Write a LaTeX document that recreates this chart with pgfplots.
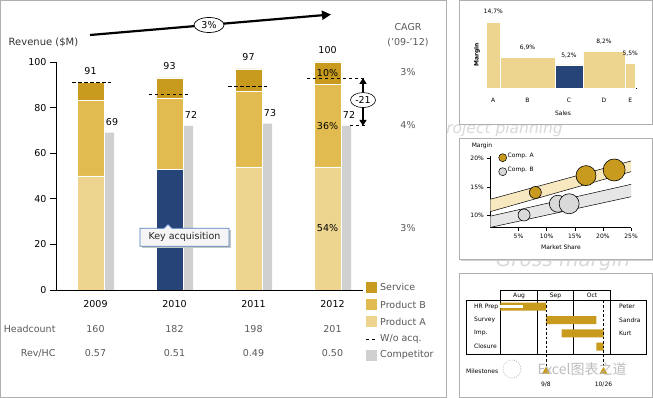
\documentclass[border=0pt]{standalone}
\usepackage{pgfplots}
\usepackage{pgfplotstable}
\pgfplotsset{compat=1.18}
\usepackage{fontspec}
\setmainfont{DejaVu Sans}
\newfontfamily\cjk{Noto Sans CJK SC}
\usetikzlibrary{arrows.meta,shapes.geometric}
\definecolor{service}{RGB}{200,155,30}
\definecolor{prodB}{RGB}{226,187,80}
\definecolor{prodA}{RGB}{237,212,143}
\definecolor{acq}{RGB}{38,68,120}
\definecolor{compc}{RGB}{208,208,208}
\definecolor{txtg}{RGB}{89,89,89}
\definecolor{tanband}{RGB}{248,232,192}
\definecolor{grayband}{RGB}{230,230,230}
\definecolor{bubB}{RGB}{217,217,217}
\definecolor{calloutb}{RGB}{79,129,189}
\definecolor{panelb}{RGB}{175,175,175}
\newcommand\fa{\fontsize{9.5}{11}\selectfont}
\newcommand\fs{\fontsize{6}{7}\selectfont}

% revenue by segment ($M)
\pgfplotstableread{
x A Acq B S
0 50 0 33 8
1 0 53 31 9
2 54 0 33 10
3 54 0 36 10
}\revtable
% competitor revenue
\pgfplotstableread{
x comp
0 69
1 72
2 73
3 72
}\comptable
% margin by sales (variable width)
\pgfplotstableread{
x m
0 14.7
9 6.9
45.5 5.2
64 8.2
92 5.5
99 5.5
}\margintable
% bubbles
\pgfplotstableread{
x y r
8 14 6
17 17 10
22 18 11
}\compA
\pgfplotstableread{
x y r
6 10 6
12 12 8.5
14 12 10
}\compB
% gantt (days from Aug 1)
\pgfplotstableread{
row start dur
3 0 38
2 38 42
1 51 35
0 80 6
}\gantt

\begin{document}
\begin{tikzpicture}[x=1pt,y=1pt]
\useasboundingbox (0,0) rectangle (653,398);
\fill[white] (0,0) rectangle (653,398);
% faint background captions
\node[anchor=base east, font=\fontsize{15.5}{17}\selectfont\itshape, text=gray!30, inner sep=0] at (563,264.7) {Project planning};
\node[anchor=base, font=\fontsize{20}{22}\selectfont\itshape, text=gray!30, inner sep=0] at (563,131) {Gross margin};
% panels
\draw[panelb, fill=white, line width=0.8pt] (0.5,0.8) rectangle (446,397.5);
\draw[panelb, fill=white, line width=0.8pt] (459.5,274) rectangle (652.5,397.8);
\fill[gray!35] (461,136.5) rectangle (653,139);
\draw[panelb, fill=white, line width=0.8pt] (459.5,138.5) rectangle (652.5,260);
\draw[panelb, fill=white, line width=0.8pt] (459.5,0.5) rectangle (652.5,125);

% ================= main chart =================
\begin{axis}[at={(56pt,108pt)}, anchor=south west, scale only axis,
  width=307pt, height=228pt, xmin=-0.5, xmax=3.386, ymin=0, ymax=100,
  enlargelimits=false, clip=false, axis on top,
  ybar stacked, bar width=27pt, bar shift=-5pt,
  axis x line=bottom, axis y line=left,
  axis line style={-, black, line width=0.8pt},
  xtick=\empty, ytick={0,20,40,60,80,100},
  tick align=outside, major tick length=6pt,
  ytick style={black, line width=0.6pt},
  yticklabel style={font=\fa, /pgf/number format/assume math mode=true},
]
\addplot[fill=prodA, draw=white, line width=0.6pt] table[x=x,y=A]{\revtable};
\addplot[fill=acq, draw=white, line width=0.6pt] table[x=x,y=Acq]{\revtable};
\addplot[fill=prodB, draw=white, line width=0.6pt] table[x=x,y=B]{\revtable};
\addplot[fill=service, draw=white, line width=0.6pt] table[x=x,y=S]{\revtable};
\end{axis}

\begin{axis}[at={(56pt,108pt)}, anchor=south west, scale only axis,
  width=307pt, height=228pt, xmin=-0.5, xmax=3.386, ymin=0, ymax=100,
  enlargelimits=false, clip=false, axis lines=none]
\addplot[ybar, bar width=9pt, bar shift=14pt, fill=compc, draw=none] table[x=x,y=comp]{\comptable};
% without acquisition
\addplot[black, line width=0.8pt, dash pattern=on 3.5pt off 2.5pt, unbounded coords=jump]
  coordinates {(-0.297,91) (0.196,91) (0.5,nan) (0.677,86) (1.184,86) (1.5,nan)
               (1.68,89.5) (2.175,89.5) (2.5,nan) (2.677,93) (3.41,93)};
\addplot[black, line width=0.8pt, dash pattern=on 3.5pt off 2.5pt] coordinates {(3.22,72) (3.41,72)};
% totals
\node[font=\fa] at (axis cs:-0.063,91) [yshift=11.5pt] {91};
\node[font=\fa] at (axis cs:0.937,93) [yshift=11.5pt] {93};
\node[font=\fa] at (axis cs:1.937,97) [yshift=11.5pt] {97};
\node[font=\fa] at (axis cs:2.937,100) [yshift=11.5pt] {100};
\node[font=\fa] at (axis cs:0.209,69) [yshift=11pt] {69};
\node[font=\fa] at (axis cs:1.209,72) [yshift=11pt] {72};
\node[font=\fa] at (axis cs:2.209,73) [yshift=11pt] {73};
\node[font=\fa] at (axis cs:3.209,72) [yshift=11pt] {72};
\node[font=\fa] at (axis cs:2.937,95) {10\%};
\node[font=\fa] at (axis cs:2.937,72) {36\%};
\node[font=\fa] at (axis cs:2.937,27) {54\%};
\node[font=\fa] at (axis cs:0,0) [yshift=-14pt] {2009};
\node[font=\fa] at (axis cs:1,0) [yshift=-14pt] {2010};
\node[font=\fa] at (axis cs:2,0) [yshift=-14pt] {2011};
\node[font=\fa] at (axis cs:3,0) [yshift=-14pt] {2012};
% gap arrow
\draw[line width=1.6pt, -{Triangle[width=7pt,length=6pt]}] (axis cs:3.386,83) -- (axis cs:3.386,93);
\draw[line width=1.6pt, -{Triangle[width=7pt,length=6pt]}] (axis cs:3.386,83) -- (axis cs:3.386,72);
\node[draw, ellipse, fill=white, line width=0.6pt, inner sep=0.5pt, minimum width=25pt, minimum height=15pt, font=\fa] at (axis cs:3.386,83.3) {-21};
\end{axis}

% titles & annotations
\node[font=\fontsize{10}{12}\selectfont, text=black!80] at (43.5,356) {Revenue (\$M)};
\draw[line width=2.2pt, -{Triangle[width=9pt,length=9pt]}] (90,363) -- (331,383.5);
\node[draw, ellipse, fill=white, line width=0.7pt, inner sep=0.5pt, minimum width=30pt, minimum height=15pt, font=\fa] at (209,373) {3\%};
\node[font=\fa, text=txtg] at (408,371) {CAGR};
\node[font=\fa, text=txtg] at (408,355) {('09-'12)};
\node[font=\fa, text=txtg] at (408,326) {3\%};
\node[font=\fa, text=txtg] at (408,273) {4\%};
\node[font=\fa, text=txtg] at (408,170) {3\%};
% headcount rows
\node[font=\fa, text=txtg, anchor=east] at (59,69) {Headcount};
\node[font=\fa, text=txtg, anchor=east] at (59,45) {Rev/HC};
\foreach \i/\h/\r in {0/160/0.57,1/182/0.51,2/198/0.49,3/201/0.50}{
  \node[font=\fa, text=txtg] at (95.5+79*\i,69) {\h};
  \node[font=\fa, text=txtg] at (95.5+79*\i,45) {\r};
}
% legend
\fill[service] (365.5,105.2) rectangle (376.5,116.2);
\fill[prodB] (365.5,87.8) rectangle (376.5,98.8);
\fill[prodA] (365.5,70.8) rectangle (376.5,81.8);
\draw[black, line width=0.8pt, dash pattern=on 3.5pt off 2.5pt] (365.5,59) -- (377,59);
\fill[compc] (365.5,37.2) rectangle (376.5,48.2);
\node[font=\fa, text=txtg, anchor=west, inner sep=0] at (380,110.7) {Service};
\node[font=\fa, text=txtg, anchor=west, inner sep=0] at (380,93.3) {Product B};
\node[font=\fa, text=txtg, anchor=west, inner sep=0] at (380,76.3) {Product A};
\node[font=\fa, text=txtg, anchor=west, inner sep=0] at (380,59) {W/o acq.};
\node[font=\fa, text=txtg, anchor=west, inner sep=0] at (380,42.7) {Competitor};
% callout
\fill[gray!45] (141.5,150) rectangle (231,168);
\draw[calloutb, fill=gray!8, line width=0.7pt] (140,151.7) -- (229,151.7) -- (229,169.7) -- (172,169.7) -- (168,173.5) -- (164,169.7) -- (140,169.7) -- cycle;
\node[font=\fa, text=black!85] at (184.5,160.7) {Key acquisition};

% ================= panel 1: margin by sales =================
\begin{axis}[at={(486.5pt,309.7pt)}, anchor=south west, scale only axis,
  width=150.5pt, height=67.65pt, xmin=0, xmax=100, ymin=0, ymax=15,
  enlargelimits=false, clip=false,
  axis x line=bottom, axis y line=none, axis line style={-, black, line width=0.6pt},
  xtick={4.5,27.25,54.75,78,95.5}, xticklabels={A,B,C,D,E},
  xtick style={draw=none}, major tick length=0pt, ytick=\empty,
  xticklabel style={font=\fs, yshift=-6pt},
]
\addplot[ybar interval, fill=prodA, draw=white, line width=0.6pt] table[x=x,y=m]{\margintable};
\addplot[ybar interval, fill=acq, draw=white, line width=0.6pt] coordinates {(45.5,5.2) (64,5.2)};
\node[font=\fs] at (axis cs:4.5,14.7) [yshift=10pt] {14,7\%};
\node[font=\fs] at (axis cs:27.25,6.9) [yshift=10pt] {6,9\%};
\node[font=\fs] at (axis cs:54.75,5.2) [yshift=9pt] {5,2\%};
\node[font=\fs] at (axis cs:78,8.2) [yshift=10pt] {8,2\%};
\node[font=\fs] at (axis cs:95.5,5.5) [yshift=10pt] {5,5\%};
\end{axis}
\node[font=\fs\bfseries, rotate=90] at (477,343) {Margin};
\node[font=\fs] at (563,285) {Sales};

% ================= panel 2: bubbles =================
\begin{axis}[at={(490.3pt,170.3pt)}, anchor=south west, scale only axis,
  width=140.75pt, height=71.8pt, xmin=0, xmax=25, ymin=7.75, ymax=20.5,
  enlargelimits=false, clip=false,
  axis x line=bottom, axis y line=left, axis line style={-, black, line width=0.6pt},
  xtick={5,10,15,20,25}, ytick={10,15,20}, tick align=outside, major tick length=3pt,
  tick style={black, line width=0.5pt},
  xticklabel={\pgfmathprintnumber[assume math mode=true]{\tick}\%},
  yticklabel={\pgfmathprintnumber[assume math mode=true]{\tick}\%},
  ticklabel style={font=\fs},
]
\addplot[fill=grayband, draw=none] coordinates {(0,7.8) (25,13.25) (25,15.45) (0,9.8)} -- cycle;
\addplot[fill=tanband, draw=none] coordinates {(0,10.6) (25,17.7) (25,19.6) (0,12.8)} -- cycle;
\addplot[black, line width=0.5pt] coordinates {(0,7.8) (25,13.25)};
\addplot[black, line width=0.5pt] coordinates {(0,9.8) (25,15.45)};
\addplot[black, line width=0.5pt] coordinates {(0,10.6) (25,17.7)};
\addplot[black, line width=0.5pt] coordinates {(0,12.8) (25,19.6)};
\addplot[scatter, only marks, mark=*, line width=0.6pt,
  scatter/use mapped color={draw=black, fill=service},
  visualization depends on={\thisrow{r} \as \rr},
  scatter/@pre marker code/.append style={/tikz/mark size=\rr pt}] table[x=x,y=y]{\compA};
\addplot[scatter, only marks, mark=*, line width=0.6pt,
  scatter/use mapped color={draw=black, fill=bubB},
  visualization depends on={\thisrow{r} \as \rr},
  scatter/@pre marker code/.append style={/tikz/mark size=\rr pt}] table[x=x,y=y]{\compB};
\end{axis}
\node[font=\fs] at (482,252.3) {Margin};
\node[font=\fs] at (561,151) {Market Share};
\draw[black, fill=service, line width=0.5pt] (502.7,240.3) circle (4);
\draw[black, fill=bubB, line width=0.5pt] (502.7,226.3) circle (4);
\node[font=\fs, anchor=west, inner sep=0] at (507.5,242.5) {Comp. A};
\node[font=\fs, anchor=west, inner sep=0] at (507.5,228.5) {Comp. B};

% ================= panel 3: gantt =================
\draw[black, line width=0.6pt] (466,43.3) rectangle (646,97.3);
\draw[black, line width=0.6pt] (500.3,97.3) rectangle (610.7,107.3);
\foreach \d in {0,31,61,92}{ \draw[black, line width=0.6pt] (500.3+1.2*\d,43.3) -- (500.3+1.2*\d,107.3); }
\node[font=\fs] at (519,102.3) {Aug};
\node[font=\fs] at (555.5,102.3) {Sep};
\node[font=\fs] at (592,102.3) {Oct};
\begin{axis}[at={(500.3pt,43.3pt)}, anchor=south west, scale only axis,
  width=110.4pt, height=54pt, xmin=0, xmax=92, ymin=-0.6, ymax=3.45,
  enlargelimits=false, clip=false, axis lines=none,
  xbar stacked, bar width=8pt]
\addplot[draw=none, fill=none] table[x=start,y=row]{\gantt};
\addplot[fill=service, draw=none] table[x=dur,y=row]{\gantt};
\end{axis}
\begin{axis}[at={(500.3pt,43.3pt)}, anchor=south west, scale only axis,
  width=110.4pt, height=54pt, xmin=0, xmax=92, ymin=-0.6, ymax=3.45,
  enlargelimits=false, clip=false, axis lines=none]
\addplot[xbar, bar width=3.5pt, fill=white, draw=none] coordinates {(19,3)};
\addplot[black, line width=0.6pt, dash pattern=on 2.5pt off 2pt] coordinates {(38,3.45) (38,-1.9)};
\addplot[black, line width=0.6pt, dash pattern=on 2.5pt off 2pt] coordinates {(86,3.45) (86,-1.9)};
\addplot[only marks, mark=triangle*, mark size=4pt, color=service] coordinates {(38,-1.85) (86,-1.85)};
\node[font=\fs] at (axis cs:38,-2.87) {9/8};
\node[font=\fs] at (axis cs:86,-2.87) {10/26};
\end{axis}
\foreach \n/\y in {HR Prep/91.3, Survey/78, Imp./64.6, Closure/51.3}{
  \node[font=\fs, anchor=west, inner sep=0] at (474,\y) {\n};
}
\foreach \n/\y in {Peter/91.3, Sandra/78, Kurt/64.6}{
  \node[font=\fs, anchor=west, inner sep=0] at (619,\y) {\n};
}
\node[font=\fs, anchor=west, inner sep=0] at (466,27) {Milestones};
\draw[gray!55, fill=white, fill opacity=0.85, line width=0.6pt, dash pattern=on 1pt off 1.2pt] (512,29) circle (9);
\node[font=\cjk\fontsize{14}{16}\selectfont, text=gray!60, opacity=0.85] at (582,29) {Excel图表之道};
\end{tikzpicture}
\end{document}
